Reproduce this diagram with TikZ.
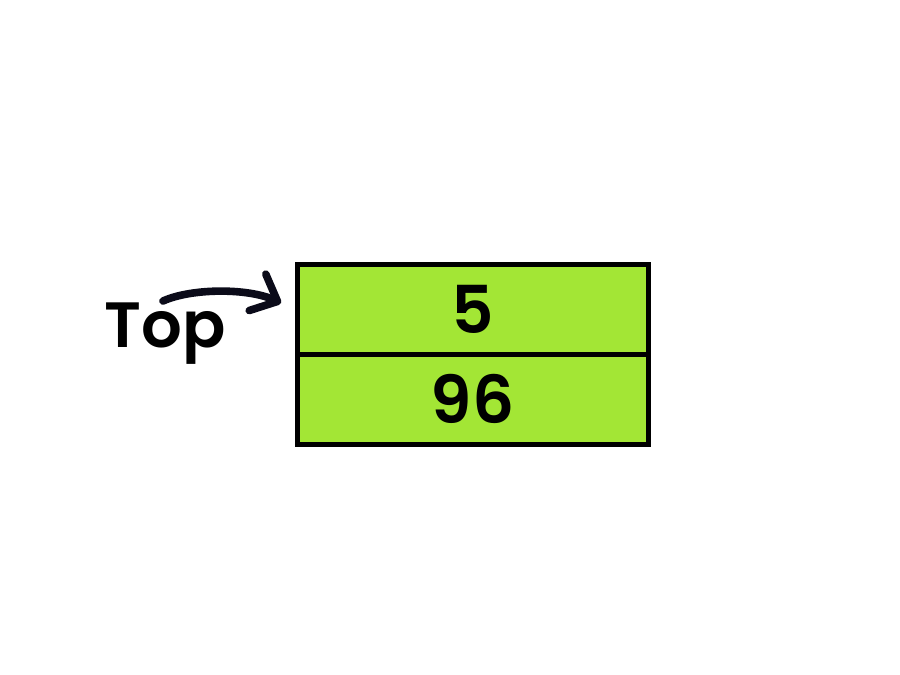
\documentclass[tikz,border=0pt]{standalone}
\usepackage{fontspec}
\usepackage{xcolor}
\usepackage{tikz}
\usetikzlibrary{arrows.meta,positioning}
\newfontfamily\stackfont{Poppins}[UprightFont=* SemiBold]
\definecolor{cellgreen}{HTML}{A3E635}
\definecolor{inkdark}{HTML}{0B0B19}

\begin{document}
\begin{tikzpicture}[
  x=0.5pt, y=-0.5pt,
  cell/.style={draw, line width=2.5pt, fill=cellgreen, outer sep=0pt,
               minimum width=175.5pt, minimum height=45pt, inner sep=0pt,
               font=\stackfont\fontsize{33}{33}\selectfont},
  lbl/.style={font=\stackfont\fontsize{32}{32}\selectfont, inner sep=0pt},
  pointer/.style={draw=inkdark, line width=3.8pt, line cap=round,
                  -{Straight Barb[length=11pt, width=20pt, round]}},
]
% canvas
\useasboundingbox (0,0) rectangle (900,675);

% Stack cells
\node[cell] (cell5) at (472.5,309) {5};
\node[cell, below=0pt of cell5] (cell96) {96};

% Top label and pointer
\node[lbl, anchor=base west] (toplbl) at (104,347) {Top};
\coordinate (tail) at (163,301);
\coordinate (tip) at (281,303);
\draw[pointer] (tail) .. controls (192,288) and (248,288) .. (tip);
\end{tikzpicture}
\end{document}
